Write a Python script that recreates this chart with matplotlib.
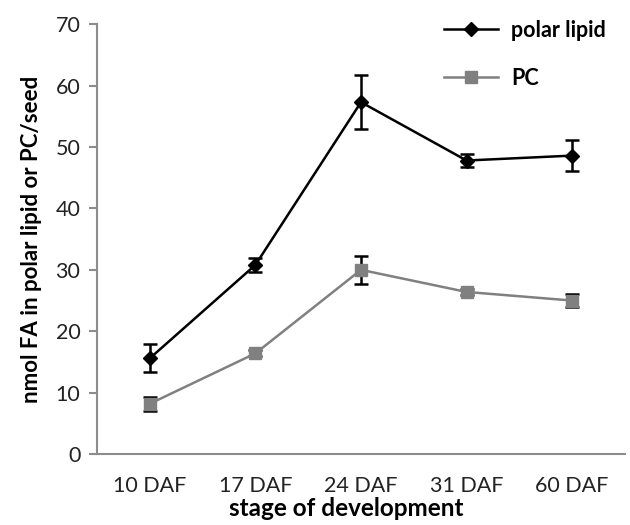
import matplotlib
matplotlib.use("Agg")
import matplotlib.pyplot as plt
from matplotlib.lines import Line2D
import numpy as np

# --- DATA ---
stages = ["10 DAF", "17 DAF", "24 DAF", "31 DAF", "60 DAF"]
polar_lipid = [15.6, 30.8, 57.3, 47.8, 48.6]
polar_lipid_err = [2.3, 1.2, 4.4, 1.1, 2.5]
pc = [8.2, 16.4, 30.0, 26.4, 25.0]
pc_err = [1.1, 0.5, 2.3, 0.5, 1.1]

plt.rcParams["font.family"] = ["Lato", "DejaVu Sans"]

fig = plt.figure(figsize=(6.3, 5.25), dpi=100)
ax = fig.add_axes([0.154, 0.135, 0.838, 0.819])

x = np.arange(len(stages))
axis_grey = "#8c8c8c"
pc_grey = "#808080"

ax.errorbar(x, polar_lipid, yerr=polar_lipid_err, color="black", lw=1.8,
            marker="D", ms=7, ecolor="black", elinewidth=1.8, capsize=5,
            capthick=1.8, zorder=3)
ax.errorbar(x, pc, yerr=pc_err, color=pc_grey, lw=1.8,
            marker="s", ms=8.5, ecolor="black", elinewidth=1.8, capsize=5,
            capthick=1.8, zorder=2)

ax.set_xlim(-0.5, len(stages) - 0.5)
ax.set_ylim(0, 70)
ax.set_yticks(np.arange(0, 71, 10))
ax.set_xticks(x)
ax.set_xticklabels(stages)

for s in ["top", "right"]:
    ax.spines[s].set_visible(False)
for s in ["left", "bottom"]:
    ax.spines[s].set_color(axis_grey)
    ax.spines[s].set_linewidth(1.5)

ax.tick_params(axis="y", length=6, width=1.5, color=axis_grey,
               labelsize=15.5, pad=6, labelcolor="#222222")
ax.tick_params(axis="x", length=0, labelsize=15.5, pad=16, labelcolor="#222222")

ax.set_ylabel("nmol FA in polar lipid or PC/seed", fontsize=16,
              fontweight="bold", labelpad=10)
ax.set_xlabel("stage of development", fontsize=17.5, fontweight="bold",
              labelpad=4)
ax.xaxis.set_label_coords(0.473, -0.1)

handles = [
    Line2D([], [], color="black", lw=1.8, marker="D", ms=7),
    Line2D([], [], color=pc_grey, lw=1.8, marker="s", ms=8.5),
]
ax.legend(handles, ["polar lipid", "PC"], loc="upper right",
          bbox_to_anchor=(1.0, 1.055), frameon=False,
          prop={"size": 15.5, "weight": "bold"}, handlelength=2.5,
          labelspacing=1.25, handletextpad=0.6)

fig.savefig("out.png", dpi=100, facecolor="white")
